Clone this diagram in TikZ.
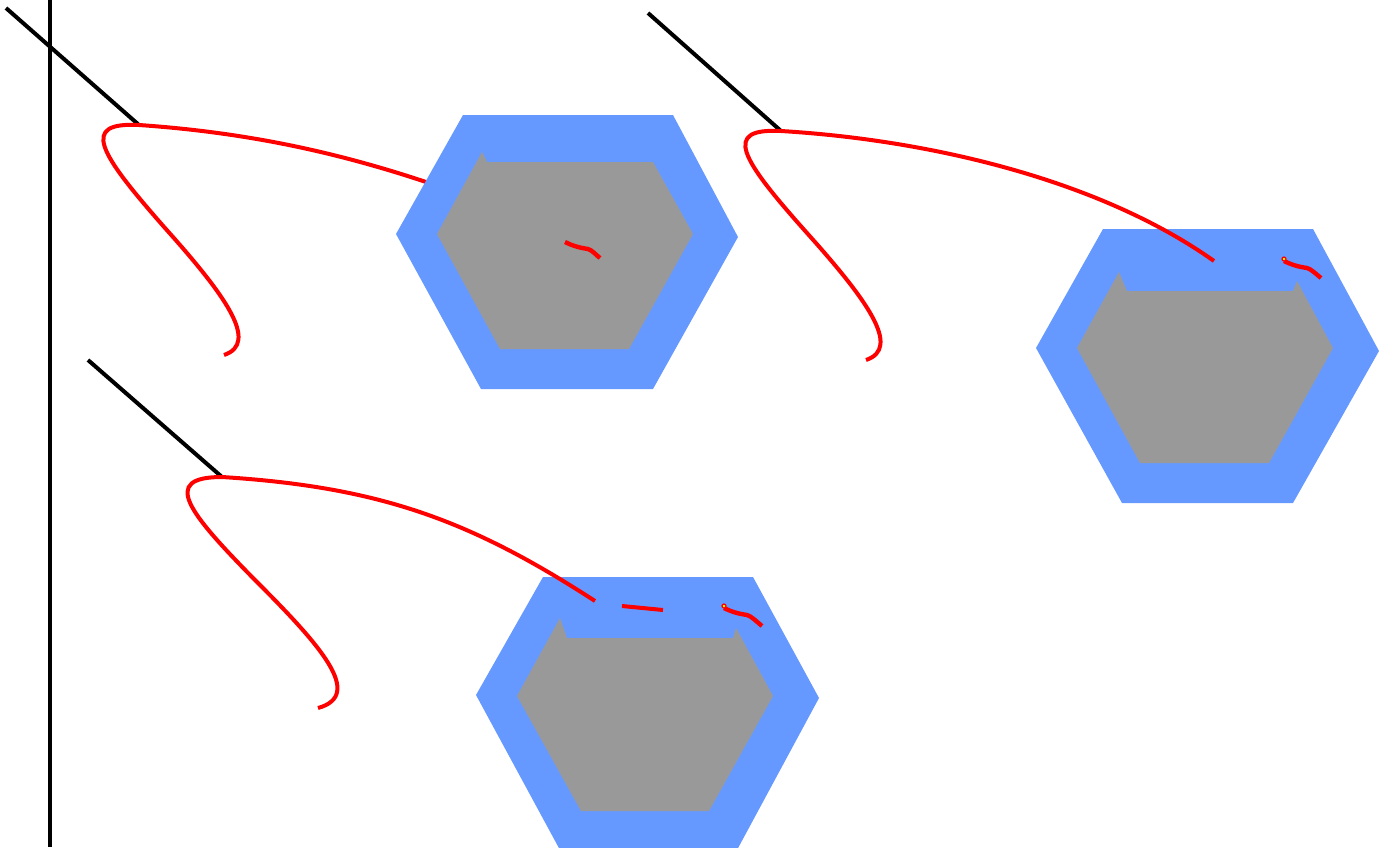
\documentclass[tikz,border=0pt]{standalone}
\begin{document}
\begin{tikzpicture}[x=1pt, y=-1pt,
    hexouter/.style={fill={rgb,255:red,102;green,153;blue,255}},
    hexinner/.style={fill={rgb,255:red,153;green,153;blue,153}},
    stick/.style={line width=4pt, black},
    wire/.style={line width=4pt, red},
    worm/.style={line width=4.4pt, red}]
\useasboundingbox (0,0) rectangle (1384,847);
% sticks
\draw[stick] (50,0) -- (50,847);
\coordinate (ta) at (139,125);
\coordinate (tb) at (781,131);
\coordinate (tc) at (222,477);
\draw[stick] (6,8) -- (ta);
\draw[stick] (648,13) -- (tb);
\draw[stick] (88,360) -- (tc);
% first wire, hidden under the hexagon
\draw[wire] (ta) .. controls (80,122) and (98,152) .. (165,228) .. controls (225,295) and (260,343) .. (224,355);
\draw[wire] (ta) .. controls (240,132) and (330,150) .. (426,182);
% first hexagon
\fill[hexouter] (463,115) -- (673,115) -- (738,237) -- (653,389) -- (481,389) -- (396,234) -- cycle;
\fill[hexinner] (482,152) -- (487,162) -- (653,162) -- (693,234) -- (629,349) -- (500,349) -- (437,234) -- cycle;
\draw[worm] (565,242) .. controls (575,247) and (582,248) .. (588,249) .. controls (592,250) and (596,255) .. (600,258);
% second hexagon
\fill[hexouter] (1103,229) -- (1313,229) -- (1379,351) -- (1293,503) -- (1122,503) -- (1036,348) -- cycle;
\fill[hexinner] (1119,272) -- (1127,291) -- (1293,291) -- (1297,281) -- (1333,348) -- (1269,463) -- (1140,463) -- (1077,348) -- cycle;
\draw[wire] (tb) .. controls (722,128) and (740,158) .. (807,233) .. controls (867,300) and (902,348) .. (866,360);
\draw[wire] (tb) .. controls (930,140) and (1100,180) .. (1214,261);
\draw[worm] (1284,261) .. controls (1294,266) and (1301,267) .. (1307,268) .. controls (1311,269) and (1316,274) .. (1321,278);
\filldraw[draw=red, fill=yellow, line width=1.2pt] (1284,259) circle (2pt);
% third hexagon
\fill[hexouter] (543,577) -- (753,577) -- (819,698) -- (737,850) -- (560,850) -- (476,695) -- cycle;
\fill[hexinner] (560,618) -- (567,638) -- (733,638) -- (736,628) -- (773,696) -- (709,811) -- (581,811) -- (517,696) -- cycle;
\draw[wire] (tc) .. controls (160,477) and (188,512) .. (255,580) .. controls (320,645) and (365,695) .. (318,708);
\draw[wire] (tc) .. controls (380,487) and (470,520) .. (595,601);
\draw[wire] (622,606) -- (663,610);
\draw[worm] (724,608) .. controls (734,613) and (741,614) .. (747,615) .. controls (751,616) and (756,621) .. (762,626);
\filldraw[draw=red, fill=yellow, line width=1.2pt] (724,606) circle (2pt);
\end{tikzpicture}
\end{document}
